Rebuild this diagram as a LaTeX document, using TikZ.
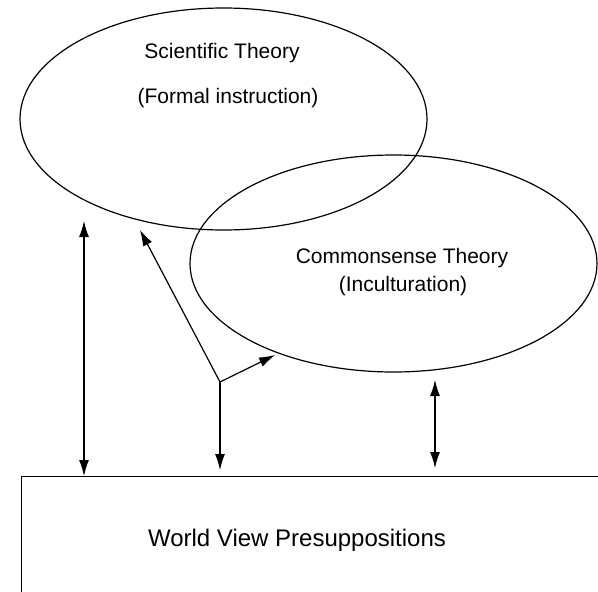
\documentclass[tikz,border=0pt]{standalone}
\usepackage{fontspec}
\setmainfont{Liberation Sans}
\usetikzlibrary{arrows.meta,shapes.geometric}

\begin{document}
\begin{tikzpicture}[x=1pt,y=-1pt,line width=1.2pt,
  onehead/.style={-{Latex[length=16pt,width=10pt]}},
  twohead/.style={{Latex[length=16pt,width=10pt]}-{Latex[length=16pt,width=10pt]}},
  theory/.style={draw,ellipse,inner sep=0pt},
  theorytext/.style={font=\fontsize{21}{25}\selectfont,inner sep=0pt},
  frametext/.style={font=\fontsize{24}{29}\selectfont,inner sep=0pt}]
\useasboundingbox (0,0) rectangle (598,592);
\clip (0,0) rectangle (598,592);

\node[theory,minimum width=407,minimum height=222] (sci) at (223.5,119) {};
\node[theory,minimum width=407,minimum height=217] (common) at (393.5,263.5) {};
\node[theorytext] (scititle) at (222,53) {Scientific Theory};
\node[theorytext] (scisub) at (228,98) {(Formal instruction)};
\node[theorytext] (comtitle) at (402,258) {Commonsense Theory};
\node[theorytext] (comsub) at (403,286) {(Inculturation)};

\node[draw,anchor=north west,minimum width=620,minimum height=140,inner sep=0pt] (world) at (21,476) {};
\node[frametext] (worldtext) at (297,540) {World View Presuppositions};

\coordinate (hub) at (220,382);
\coordinate (scitip) at (140,230);
\coordinate (comtip) at (275,355);
\coordinate (lefttop) at (84,221);
\coordinate (righttop) at (435,380);

\draw[twohead] (lefttop) -- (lefttop |- world.north);
\draw[onehead] (hub) -- (scitip);
\draw[onehead] (hub) -- (comtip);
\draw[onehead,shorten >=6pt] (hub) -- (hub |- world.north);
\draw[twohead,shorten >=8pt] (righttop) -- (righttop |- world.north);
\end{tikzpicture}
\end{document}
